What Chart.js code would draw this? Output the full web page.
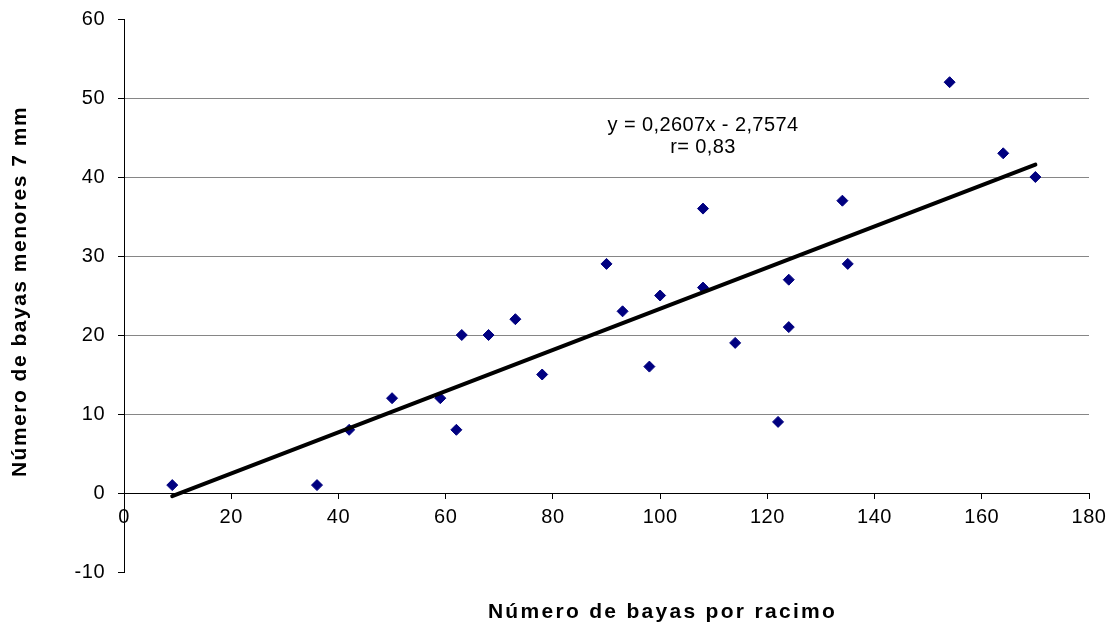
<!DOCTYPE html>
<html>
<head>
<meta charset="utf-8">
<script src="https://cdn.jsdelivr.net/npm/chart.js@4/dist/chart.umd.min.js"></script>
<style>
html,body{margin:0;padding:0;background:#fff;}
canvas{display:block;}
</style>
</head>
<body>
<canvas id="c" width="1119" height="635"></canvas>
<script>
// ---- data ----
const berriesPerCluster = [9, 36, 42, 50, 59, 62, 63, 68, 73, 78, 90, 93, 98, 100, 108, 108, 114, 122, 124, 124, 134, 135, 154, 164, 170];
const berriesUnder7mm   = [1, 1, 8, 12, 12, 8, 20, 20, 22, 15, 29, 23, 16, 25, 36, 26, 19, 9, 27, 21, 37, 29, 52, 43, 40];
const trendX = [9, 170];
const trendY = [-0.41, 41.56];
const xRange = [0, 180];
const xStep = 20;
const yRange = [-10, 60];
const yStep = 10;
const xTitle = 'Número de bayas por racimo';
const yTitle = 'Número de bayas menores 7 mm';
const equationLines = ['y = 0,2607x - 2,7574', 'r= 0,83'];
const equationAnchorX = [108, 108];
const equationAnchorY = [46.55, 43.7];

const FONT = '"Liberation Sans", Arial, Helvetica, sans-serif';
Chart.defaults.font.family = FONT;
Chart.defaults.color = '#000';

const scatterPoints = berriesPerCluster.map((v, i) => ({x: v, y: berriesUnder7mm[i]}));
const trendPoints = trendX.map((v, i) => ({x: v, y: trendY[i]}));

const textPlugin = {
  id: 'textTweaks',
  afterLayout(chart) {
    const patch = (id, spacing, dx, dy) => {
      const s = chart.scales[id];
      if (!s || s._patchedTitle) return;
      const orig = s.drawTitle;
      s.drawTitle = function () {
        const c = this.ctx;
        c.save();
        c.letterSpacing = spacing + 'px';
        c.translate(dx, dy);
        orig.call(this);
        c.restore();
      };
      s._patchedTitle = true;
    };
    patch('y', 1.5, 0, -4);
    patch('x2', 2.3, 56, 0);
  },
  beforeDraw(chart) {
    chart.ctx.letterSpacing = '0.5px';
  },
  afterDatasetsDraw(chart) {
    const {ctx, scales: {x, y}} = chart;
    ctx.save();
    ctx.letterSpacing = '0.4px';
    ctx.font = '20px ' + FONT;
    ctx.fillStyle = '#000';
    ctx.textAlign = 'center';
    ctx.textBaseline = 'middle';
    equationLines.forEach((t, i) => {
      ctx.fillText(t, x.getPixelForValue(equationAnchorX[i]), y.getPixelForValue(equationAnchorY[i]));
    });
    ctx.restore();
  }
};

new Chart(document.getElementById('c'), {
  type: 'scatter',
  data: {
    datasets: [
      {
        type: 'line',
        label: 'Tendencia',
        data: trendPoints,
        borderColor: '#000',
        borderWidth: 4,
        borderCapStyle: 'round',
        pointRadius: 0,
        fill: false,
        showLine: true,
        order: 0
      },
      {
        label: 'Bayas',
        data: scatterPoints,
        pointStyle: 'rectRot',
        pointRadius: 5.5,
        pointBorderWidth: 1,
        backgroundColor: '#000080',
        borderColor: '#000080',
        order: 1
      }
    ]
  },
  options: {
    responsive: false,
    animation: false,
    devicePixelRatio: 1,
    layout: {padding: {top: 19, right: 30, left: 0, bottom: 0}},
    plugins: {legend: {display: false}, tooltip: {enabled: false}},
    scales: {
      x: {
        type: 'linear',
        position: {y: 0},
        min: xRange[0],
        max: xRange[1],
        ticks: {stepSize: xStep, autoSkip: false, maxRotation: 0, font: {size: 20}, color: '#000', padding: 7},
        grid: {drawOnChartArea: false, drawTicks: true, tickLength: 5, tickColor: '#000', color: '#000'},
        border: {display: true, color: '#000', width: 1},
        afterFit: s => { s.paddingTop = 0; s.paddingBottom = 0; }
      },
      x2: {
        type: 'linear',
        position: 'bottom',
        display: true,
        ticks: {display: false},
        grid: {display: false, drawTicks: false},
        border: {display: false},
        title: {display: true, text: xTitle, color: '#000', font: {size: 21, weight: 'bold'}, padding: {top: 0, bottom: 10}},
        afterFit: s => { s.height = 63; }
      },
      y: {
        type: 'linear',
        position: 'left',
        min: yRange[0],
        max: yRange[1],
        ticks: {stepSize: yStep, font: {size: 20}, color: '#000', padding: 13},
        grid: {
          color: ctx => (ctx.tick && ctx.tick.value > yRange[0] && ctx.tick.value < yRange[1] && ctx.tick.value !== 0) ? '#868686' : 'rgba(0,0,0,0)',
          tickColor: '#000',
          tickLength: 6,
          lineWidth: 1
        },
        border: {display: true, color: '#000', width: 1},
        title: {display: true, text: yTitle, color: '#000', font: {size: 21, weight: 'bold'}, padding: {top: 8, bottom: 0}},
        afterFit: s => { s.width = 124; s.paddingTop = 0; s.paddingBottom = 0; }
      }
    }
  },
  plugins: [textPlugin]
});
</script>
</body>
</html>
